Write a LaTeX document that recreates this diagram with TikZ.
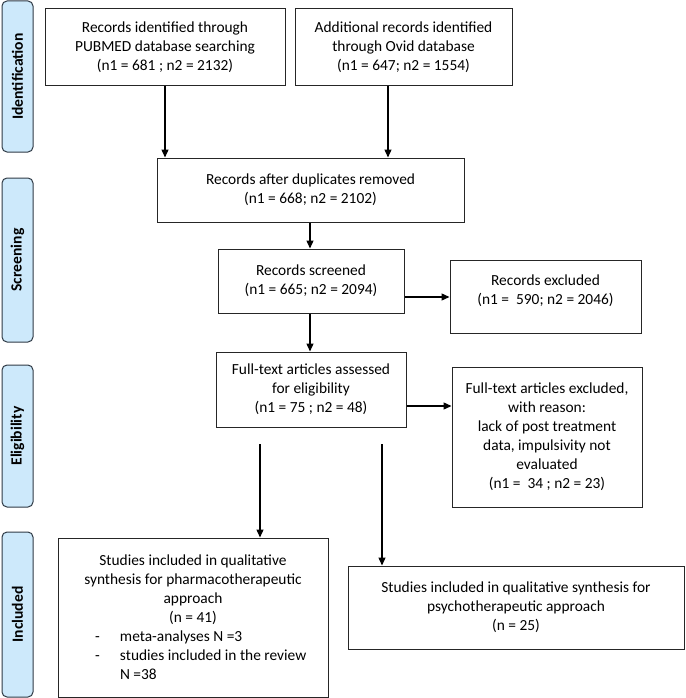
\documentclass[tikz,border=0pt]{standalone}
\usepackage{fontspec}
\setmainfont{Carlito}
\usetikzlibrary{arrows.meta}
\definecolor{sidefill}{HTML}{CDE9FB}
\definecolor{sidedraw}{HTML}{2F3A45}
\tikzset{
  txt/.style={font=\fontsize{15.4}{19}\selectfont},
  box/.style={draw=black!85, line width=1pt, rectangle, txt, align=center, inner sep=0pt},
  side/.style={draw=sidedraw, fill=sidefill, line width=1pt, rounded corners=5pt, inner sep=0pt,
    minimum width=31pt},
  sidetxt/.style={rotate=90, font=\fontsize{15.6}{17}\selectfont\bfseries},
  arr/.style={line width=1.3pt, -{Triangle[length=8pt,width=7pt]}}
}
\begin{document}
\begin{tikzpicture}[x=1pt,y=-1pt]
\useasboundingbox (0,0) rectangle (685,698);
% side labels
\node[side, minimum height=151pt] (sid) at (17.5,76.5) {};
\node[sidetxt] (sidt) at (sid.center) {Identification};
\node[side, minimum height=164pt] (sscr) at (17.5,260) {};
\node[sidetxt] (sscrt) at (sscr.center) {Screening};
\node[side, minimum height=142pt] (selig) at (17.5,436) {};
\node[sidetxt] (seligt) at (selig.center) {Eligibility};
\node[side, minimum height=165pt] (sinc) at (17.5,614.5) {};
\node[sidetxt] (sinct) at (sinc.center) {Included};
% boxes
\node[box, minimum width=240pt, minimum height=77pt] (b1) at (165,47.5)
  {Records identified through\\PUBMED database searching\\(n1 = 681 ; n2 = 2132)};
\node[box, minimum width=217pt, minimum height=77pt] (b2) at (403.5,47.5)
  {Additional records identified\\through Ovid database\\(n1 = 647; n2 = 1554)};
\node[box, minimum width=307pt, minimum height=64pt] (b3) at (310.5,190)
  {Records after duplicates removed\\(n1 = 668; n2 = 2102)};
\node[box, minimum width=186pt, minimum height=64pt] (b4) at (311,281)
  {Records screened\\(n1 = 665; n2 = 2094)};
\node[box, minimum width=191pt, minimum height=73pt] (b5) at (545.5,296.5)
  {Records excluded\\(n1 =\ \ 590; n2 = 2046)\\[-6pt]};
\node[box, minimum width=190pt, minimum height=75pt] (b6) at (311,389.5)
  {Full-text articles assessed\\for eligibility\\(n1 = 75 ; n2 = 48)};
\node[box, minimum width=190pt, minimum height=140pt] (b7) at (547,437)
  {Full-text articles excluded,\\with reason:\\lack of post treatment\\data, impulsivity not\\evaluated\\(n1 =\ \ 34 ; n2 = 23)};
\node[box, minimum width=270pt, minimum height=159pt] (b8) at (193,617.5)
  {\begin{minipage}{250pt}\fontsize{15.4}{19}\selectfont\centering
   Studies included in qualitative\\synthesis for pharmacotherapeutic\\approach\\(n = 41)\par
   \raggedright
   \hspace*{27pt}\makebox[25pt][l]{-}meta-analyses N =3\\
   \hspace*{27pt}\makebox[25pt][l]{-}studies included in the review\\
   \hspace*{52pt}N =38\par
   \end{minipage}};
\node[box, minimum width=336pt, minimum height=83pt] (b9) at (516,607.5)
  {Studies included in qualitative synthesis for\\psychotherapeutic approach\\(n = 25)};
% connectors
\draw[arr] (b1.south) -- (b1.south |- b3.north);
\draw[arr] (b2.south -| 388,0) -- (388,0 |- b3.north);
\draw[arr] (b3.south -| 310,0) -- (310,0 |- b4.north);
\draw[arr] (b4.south -| 310,0) -- (310,0 |- b6.north);
\draw[arr] (b4.east |- 0,297) -- (b5.west |- 0,297);
\draw[arr] (b6.east |- 0,406) -- (b7.west |- 0,406);
\coordinate (s1) at (260,444);
\coordinate (s2) at (382,444);
\draw[arr] (s1) -- (s1 |- b8.north);
\draw[arr] (s2) -- (s2 |- b9.north);
\end{tikzpicture}
\end{document}
